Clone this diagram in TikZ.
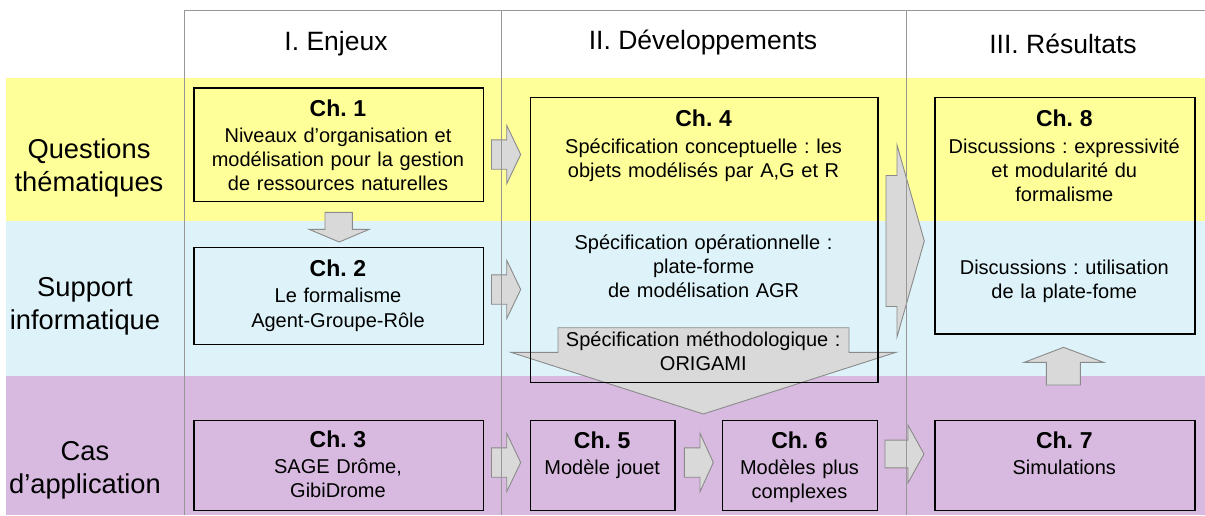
\documentclass[tikz,border=0pt]{standalone}
\usepackage{fontspec}
\setmainfont{Liberation Sans}
\frenchspacing

\definecolor{bandyellow}{HTML}{FFFF99}
\definecolor{bandblue}{HTML}{DDF3F9}
\definecolor{bandpurple}{HTML}{D8BAE0}
\definecolor{arrowfill}{HTML}{D9D9D9}
\definecolor{arrowline}{HTML}{8A8A8A}
\definecolor{gridline}{HTML}{979797}

\tikzset{
  band/.style={fill=#1, draw=none},
  chapter/.style={draw=black, line width=1.3pt, inner sep=0pt, anchor=north west},
  blockarrow/.style={fill=arrowfill, draw=arrowline, line width=0.9pt, line join=miter},
  colline/.style={draw=gridline, line width=1pt},
  heading/.style={font=\fontsize{26.5}{30}\selectfont, anchor=base, inner sep=0pt},
  rowlabel/.style={font=\fontsize{27.3}{33.5}\selectfont, align=center, text width=180pt, anchor=base, inner sep=0pt},
  boxtext/.style={font=\fontsize{20}{24.1}\selectfont, align=center, text width=#1, anchor=base, inner sep=0pt},
  boxtext/.default=340pt,
}

% bold chapter number followed by a slightly larger gap
\newcommand\chtitle[1]{{\bfseries\fontsize{23}{26}\selectfont Ch.~#1}\\[2.3pt]}

% horizontal block arrow: shaft start, head base, tip, centre y, half shaft, half head
\newcommand\rblockarrow[6]{%
  \draw[blockarrow] ({#1},{#4-#5}) -- ({#2},{#4-#5}) -- ({#2},{#4-#6}) -- ({#3},{#4})
    -- ({#2},{#4+#6}) -- ({#2},{#4+#5}) -- ({#1},{#4+#5}) -- cycle;}

\begin{document}
\begin{tikzpicture}[x=1pt, y=-1pt]
\useasboundingbox (0,0) rectangle (1205,515);

% horizontal bands
\fill[bandyellow] (5.5,77.5) rectangle (1205,221);
\fill[bandblue]   (5.5,221) rectangle (1205,376);
\fill[bandpurple] (5.5,376) rectangle (1205,515);

% block arrows
\draw[blockarrow] (325,212.3) -- (352.3,212.3) -- (352.3,229.3) -- (369.3,229.3)
  -- (339.2,242) -- (309,229.3) -- (325,229.3) -- cycle;
\rblockarrow{491.5}{506.7}{520.7}{154.5}{14.7}{29.2}
\rblockarrow{491.5}{506.7}{520.7}{289.5}{14.7}{29.2}
\rblockarrow{491.5}{506.7}{520.7}{462.5}{14.7}{29.2}
\rblockarrow{684.3}{700}{713.3}{462.5}{14.7}{29.2}
\rblockarrow{885}{908}{924}{454}{13.9}{28.8}
\rblockarrow{886}{897}{924.3}{241}{65.5}{96}
\draw[blockarrow] (558,327.7) -- (849,327.7) -- (849,352.3) -- (896,352.3)
  -- (703.3,414) -- (511,352.3) -- (558,352.3) -- cycle;
\draw[blockarrow] (1046.4,385) -- (1080.3,385) -- (1080.3,362.3) -- (1103.5,362.3)
  -- (1063.5,347.3) -- (1024.4,362.3) -- (1046.4,362.3) -- cycle;

% chapter boxes
\node[chapter, minimum width=289.4pt, minimum height=113.4pt] (ch1) at (193.3,87.3) {};
\node[chapter, minimum width=289.4pt, minimum height=97pt]    (ch2) at (193.3,247) {};
\node[chapter, minimum width=289.4pt, minimum height=90pt]    (ch3) at (193.3,420) {};
\node[chapter, minimum width=347.3pt, minimum height=285.3pt] (ch4) at (530,96.7) {};
\node[chapter, minimum width=144.3pt, minimum height=90pt]    (ch5) at (530,420) {};
\node[chapter, minimum width=155pt,   minimum height=90pt]    (ch6) at (722,420) {};
\node[chapter, minimum width=260pt,   minimum height=90pt]    (ch7) at (934.3,420) {};
\node[chapter, minimum width=260pt,   minimum height=236.6pt] (ch8) at (934.3,96.7) {};

% column frame
\draw[colline] (184,515) -- (184,10) -- (1205,10);
\draw[colline] (501,10) -- (501,515);
\draw[colline] (906,10) -- (906,515);

% column headings
\node[heading] (hI)   at (336,50.3) {I. Enjeux};
\node[heading] (hII)  at (703,49)   {II. Développements};
\node[heading] (hIII) at (1063,53)  {III. Résultats};

% row labels
\node[rowlabel] (rQ) at (89,158.3) {Questions\\thématiques};
\node[rowlabel] (rS) at (85,296.3) {Support\\informatique};
\node[rowlabel] (rC) at (85,460.3) {Cas\\d’application};

% box contents
\node[boxtext] (t1) at (338,116) {\chtitle{1}Niveaux d’organisation et\\modélisation pour la gestion\\de ressources naturelles};
\node[boxtext] (t2) at (338,276.5) {\chtitle{2}Le formalisme\\Agent-Groupe-Rôle};
\node[boxtext] (t3) at (338,447) {\chtitle{3}SAGE Drôme,\\GibiDrome};
\node[boxtext] (t4) at (703.6,126.7) {\chtitle{4}Spécification conceptuelle : les\\objets modélisés par A,G et R};
\node[boxtext] (t4b) at (703.6,249.3) {Spécification opérationnelle :\\plate-forme\\de modélisation AGR};
\node[boxtext] (tO) at (703.3,346.7) {Spécification méthodologique :\\ORIGAMI};
\node[boxtext=140pt] (t5) at (602.2,448) {\chtitle{5}Modèle jouet};
\node[boxtext=150pt] (t6) at (799.5,448) {\chtitle{6}Modèles plus\\complexes};
\node[boxtext=250pt] (t7) at (1064.3,448) {\chtitle{7}Simulations};
\node[boxtext=250pt] (t8) at (1064.3,126.7) {\chtitle{8}Discussions : expressivité\\et modularité du\\formalisme};
\node[boxtext=250pt] (t8b) at (1064.3,274.3) {Discussions : utilisation\\de la plate-fome};
\end{tikzpicture}
\end{document}
